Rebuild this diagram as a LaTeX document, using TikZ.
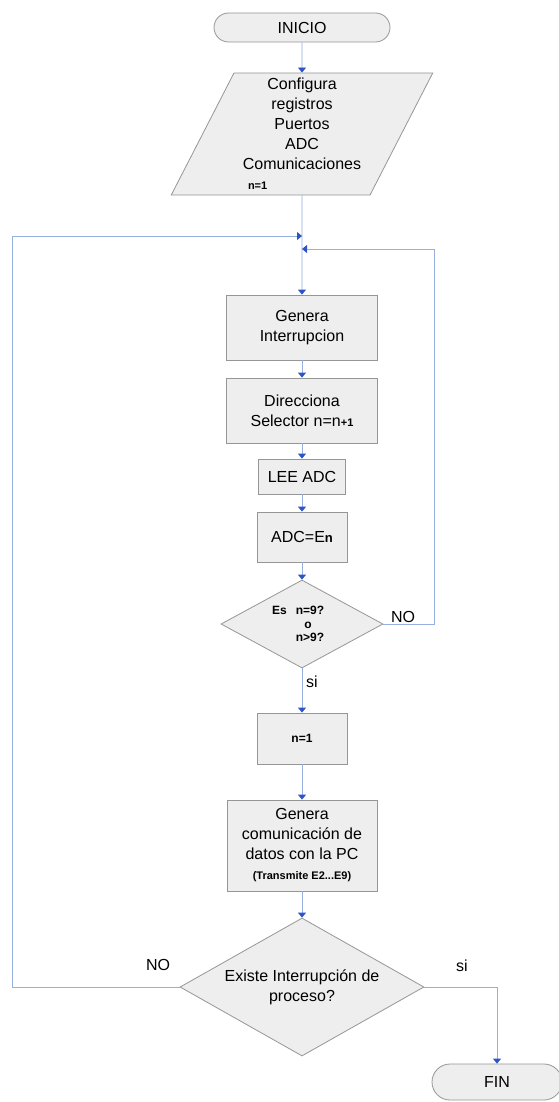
\documentclass[tikz,border=0pt]{standalone}
\usepackage{fontspec}
\setmainfont{Liberation Sans}
\usetikzlibrary{shapes.geometric,shapes.misc,arrows.meta}
\definecolor{boxfill}{RGB}{238,238,238}
\definecolor{boxline}{RGB}{150,150,150}
\definecolor{flowline}{RGB}{150,175,222}
\definecolor{flowtip}{RGB}{45,85,200}
\newcommand{\smallbold}{\fontsize{11}{13}\selectfont\bfseries}

\begin{document}
\begin{tikzpicture}[x=1pt,y=-1pt]
    \tikzset{box/.style = {draw=boxline, fill=boxfill, line width=0.8pt, inner sep=1pt, align=center, font=\fontsize{16}{20}\selectfont}}
    \tikzset{terminal/.style = {box, rounded rectangle}}
    \tikzset{process/.style = {box, shape=rectangle}}
    \tikzset{decision/.style = {box, diamond}}
    \tikzset{io/.style = {box, trapezium, trapezium left angle=64, trapezium right angle=116, trapezium stretches=true}}
    \tikzset{flow/.style = {draw=flowline, line width=0.8pt, -{Triangle[length=5pt,width=8pt,color=flowtip]}}}
    \tikzset{tag/.style = {inner sep=0pt, font=\fontsize{16}{20}\selectfont}}
    % page
    \fill[white] (0,0) rectangle (558,1102);
    \useasboundingbox (0,0) rectangle (558,1102);
    % start and setup
    \node[terminal, minimum width=178pt, minimum height=29pt] (inicio) at (302,27.5) {INICIO};
    \node[io, minimum width=262pt, minimum height=122pt] (config) at (302,134) {Configura\\registros\\Puertos\\ADC\\Comunicaciones\\\makebox[108pt][l]{\smallbold n=1}};
    % where the two loops come back in
    \coordinate (joinL) at (302,236);
    \coordinate (joinR) at (302,249);
    % reading the channels
    \node[process, minimum width=151pt, minimum height=65pt] (genint) at (302,327.5) {Genera\\Interrupcion};
    \node[process, minimum width=151pt, minimum height=65pt] (direc) at (302,410.5) {Direcciona\\Selector n=n{\smallbold +1}};
    \node[process, minimum width=87pt, minimum height=35pt] (lee) at (302,476.5) {LEE ADC};
    \node[process, minimum width=90pt, minimum height=50pt] (adc) at (302,537) {ADC=E{\fontsize{13}{15}\selectfont\bfseries n}};
    \node[decision, aspect=1.84, minimum width=162pt, minimum height=88pt, font=\fontsize{12}{13.5}\selectfont\bfseries] (d1) at (302,624) {\hspace*{16pt}\llap{Es\hspace{9pt}}n=9?\\\hspace*{12pt}o\\\hspace*{16pt}n>9?};
    % sending to the PC
    \node[process, minimum width=90pt, minimum height=51pt, font=\fontsize{12}{14}\selectfont\bfseries] (n1) at (302,738.5) {n=1};
    \node[process, minimum width=150pt, minimum height=91pt] (gencom) at (302,845.5) {Genera\\comunicación de\\datos con la PC\\{\smallbold (Transmite E2...E9)}};
    \node[decision, aspect=1.77, minimum width=244pt, minimum height=138pt] (d2) at (302,987) {Existe Interrupción de\\proceso?};
    \node[terminal, minimum width=132pt, minimum height=36pt] (fin) at (497,1082) {FIN};
    % branch labels
    \node[tag] (noA) at (403,617) {NO};
    \node[tag] (siA) at (312,682) {si};
    \node[tag] (noB) at (158,965) {NO};
    \node[tag] (siB) at (462,966) {si};
    % connectors
    \draw[flow] (inicio) -- (config);
    \draw[flow] (config) -- (genint);
    \draw[flow] (genint) -- (direc);
    \draw[flow] (direc) -- (lee);
    \draw[flow] (lee) -- (adc);
    \draw[flow] (adc) -- (d1);
    \draw[flow] (d1) -- (n1);
    \draw[flow] (n1) -- (gencom);
    \draw[flow] (gencom) -- (d2);
    \draw[flow] (d2.east) -| (fin.north);
    \draw[flow] (d2.west) -- ++(-167,0) |- (joinL);
    \draw[flow] (d1.east) -- ++(51,0) |- (joinR);
\end{tikzpicture}
\end{document}
